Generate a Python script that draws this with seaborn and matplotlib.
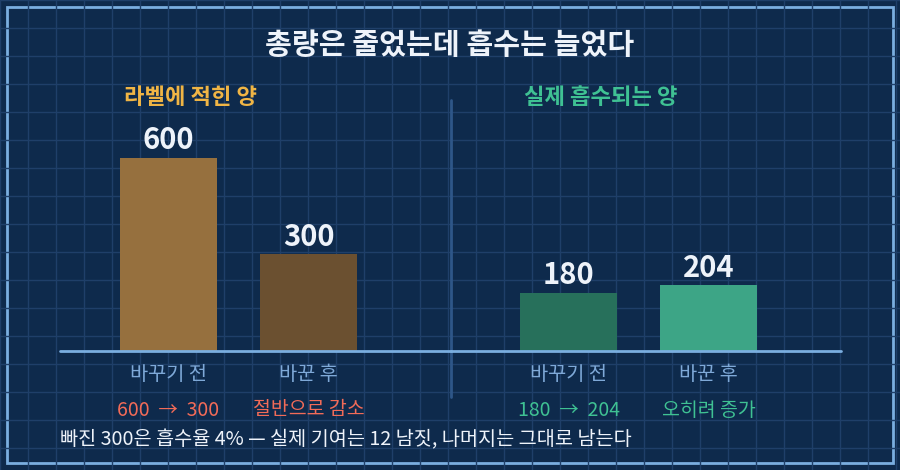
import matplotlib
matplotlib.use("Agg")
import matplotlib.pyplot as plt
import matplotlib.patches as mpatches
import seaborn as sns
import pandas as pd

# data
title = "총량은 줄었는데 흡수는 늘었다"
stages = ["바꾸기 전", "바꾼 후"]
label_amount = [600, 300]
absorbed_amount = [180, 204]
left_title = "라벨에 적힌 양"
right_title = "실제 흡수되는 양"
left_notes = ["600  →  300", "절반으로 감소"]
right_notes = ["180  →  204", "오히려 증가"]
footnote = "빠진 300은 흡수율 4% — 실제 기여는 12 남짓, 나머지는 그대로 남는다"

BG = "#0e2a4c"
GRID = "#1f3f69"
FRAME = "#7aaee0"
AXIS_BLUE = "#7fa9d8"
ORANGE = "#f0b545"
GREEN = "#3fc193"
RED = "#f26b58"
WHITE = "#eef3fa"

sns.set_style("dark")
plt.rcParams["font.family"] = ["Noto Sans CJK KR", "DejaVu Sans"]

W, H = 900, 470
fig = plt.figure(figsize=(9, 4.7), dpi=100, facecolor=BG)

# background grid
bg = fig.add_axes([0, 0, 1, 1])
bg.set_facecolor(BG)
bg.set_xlim(0, W)
bg.set_ylim(H, 0)
for x in range(0, W + 1, 28):
    bg.axvline(x, color=GRID, lw=1)
for y in range(0, H + 1, 28):
    bg.axhline(y, color=GRID, lw=1)
bg.add_patch(mpatches.Rectangle((7, 7), 886, 456, fill=False, ec=FRAME, lw=2))
bg.plot([451, 451], [100, 397], color="#2e5688", lw=2, zorder=3)
bg.axis("off")

base_y = 351
top_y = 100
scale = 0.3217  # px per unit
ymax = (base_y - top_y) / scale


def panel(x0, x1, first_center, values, colors, notes, note_colors):
    ax = fig.add_axes([x0 / W, (H - base_y) / H, (x1 - x0) / W, (base_y - top_y) / H])
    df = pd.DataFrame({"stage": stages, "value": values})
    sns.barplot(data=df, x="stage", y="value", hue="stage", palette=colors,
                width=97 / 140, legend=False, ax=ax, saturation=1,
                edgecolor="none", linewidth=0)
    ax.set_xlim((x0 - first_center) / 140, (x1 - first_center) / 140)
    ax.set_ylim(0, ymax)
    ax.set_facecolor("none")
    ax.grid(False)
    for s in ax.spines.values():
        s.set_visible(False)
    ax.axhline(0, color=FRAME, lw=2, zorder=4, clip_on=False)
    ax.set_xlabel("")
    ax.set_ylabel("")
    ax.set_yticks([])
    ax.tick_params(axis="x", length=0, pad=9, labelsize=14.2, labelcolor=AXIS_BLUE)
    for p, v in zip(ax.patches, values):
        ax.annotate(f"{v}", (p.get_x() + p.get_width() / 2, v), xytext=(0, 2),
                    textcoords="offset points", ha="center", va="bottom",
                    fontsize=21, fontweight="bold", color=WHITE)
    trans = ax.get_xaxis_transform()
    for i, (t, c) in enumerate(zip(notes, note_colors)):
        ax.text(i, -(410 - base_y) / (base_y - top_y), t, transform=trans,
                ha="center", va="center", fontsize=14, color=c)
    return ax


panel(60, 451, 168.5, label_amount, ["#96703e", "#6b5030"], left_notes, [RED, RED])
panel(451, 841, 568.5, absorbed_amount, ["#27705b", "#3da586"], right_notes, [GREEN, GREEN])

fig.text(450 / W, 1 - 45 / H, title, ha="center", va="center", fontsize=21,
         fontweight="bold", color=WHITE)
fig.text(191 / W, 1 - 98 / H, left_title, ha="center", va="center", fontsize=16,
         fontweight="bold", color=ORANGE)
fig.text(601 / W, 1 - 98 / H, right_title, ha="center", va="center", fontsize=16,
         fontweight="bold", color=GREEN)
fig.text(60 / W, 1 - 440 / H, footnote, ha="left", va="center", fontsize=14.2,
         color=WHITE)

fig.savefig("out.png", dpi=100, facecolor=BG)
